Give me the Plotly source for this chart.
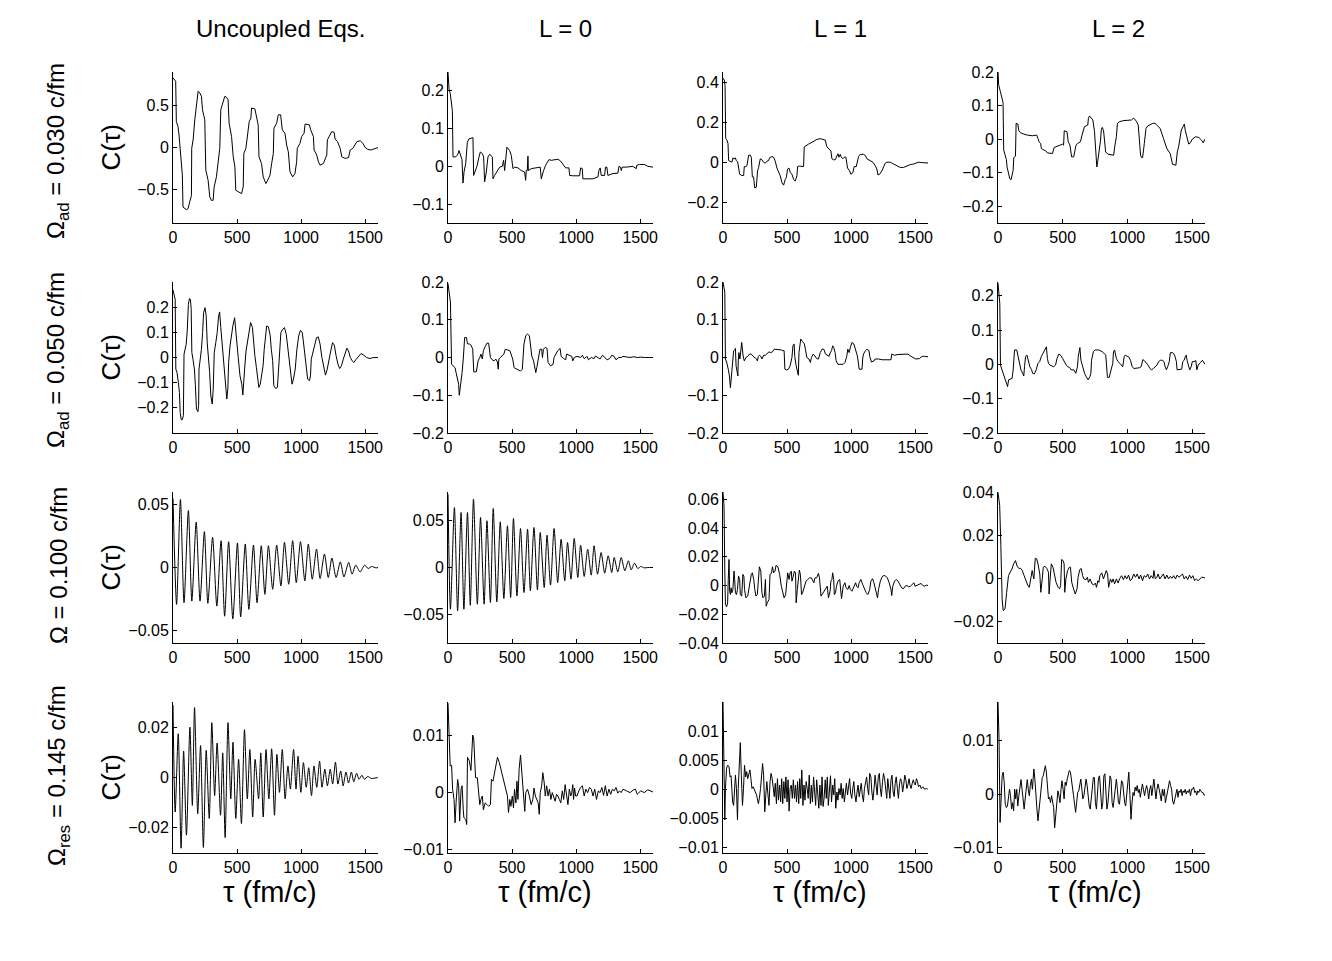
import plotly.graph_objects as go

# readings of C(tau) from the original figure, tau in fm/c
# row 1: Omega_ad = 0.030 c/fm
tau_11 = [0, 13, 21, 26, 39, 47, 57, 73, 78, 104,
          117, 136, 144, 146, 157, 170, 183, 196, 209, 222,
          230, 248, 256, 274, 287, 300, 313, 321, 339, 352,
          365, 373, 391, 404, 417, 430, 438, 457, 470, 483,
          490, 509, 535, 548, 553, 569, 579, 595, 608, 613,
          639, 652, 665, 671, 691, 704, 725, 736, 757, 770,
          783, 788, 809, 822, 840, 853, 874, 887, 900, 913,
          934, 952, 965, 970, 991, 1004, 1023, 1031, 1064, 1075,
          1096, 1101, 1122, 1135, 1148, 1174, 1200, 1205, 1226, 1239,
          1258, 1265, 1284, 1305, 1317, 1344, 1370, 1383, 1404, 1414,
          1435, 1461, 1482, 1500, 1518, 1544, 1578, 1600]
corr_11 = [0.83, 0.80, 0.79, 0.31, 0.25, 0.15, -0.07, -0.33, -0.71, -0.74,
           -0.73, -0.59, -0.57, -0.01, 0.09, 0.33, 0.53, 0.67, 0.65, 0.61,
           0.45, 0.33, -0.27, -0.39, -0.59, -0.63, -0.63, -0.47, -0.35, -0.15,
           -0.01, 0.45, 0.53, 0.61, 0.60, 0.57, 0.29, 0.13, -0.11, -0.23,
           -0.51, -0.53, -0.55, -0.47, -0.07, -0.01, 0.13, 0.31, 0.35, 0.47,
           0.46, 0.37, 0.27, -0.11, -0.19, -0.35, -0.43, -0.40, -0.33, -0.19,
           -0.07, 0.23, 0.29, 0.39, 0.39, 0.21, 0.17, 0.03, -0.05, -0.29,
           -0.35, -0.31, -0.17, -0.01, 0.05, 0.13, 0.17, 0.28, 0.27, 0.21,
           0.13, -0.03, -0.09, -0.17, -0.21, -0.19, -0.09, 0.09, 0.15, 0.19,
           0.18, 0.10, 0.07, -0.01, -0.11, -0.13, -0.12, -0.03, -0.01, 0.02,
           0.07, 0.08, 0.05, 0.0, -0.02, -0.03, -0.01, 0.0]

tau_12 = [0, 8, 18, 34, 39, 60, 70, 78, 86, 91,
          99, 109, 117, 125, 138, 151, 164, 182, 195, 200,
          216, 226, 242, 252, 268, 278, 286, 299, 312, 325,
          346, 351, 364, 382, 403, 424, 434, 442, 450, 460,
          481, 494, 507, 520, 546, 572, 598, 606, 611, 619,
          624, 627, 650, 689, 720, 728, 736, 746, 762, 775,
          788, 806, 840, 858, 879, 892, 910, 918, 944, 949,
          975, 1027, 1035, 1048, 1053, 1079, 1131, 1170, 1178, 1188,
          1196, 1222, 1230, 1240, 1248, 1287, 1326, 1334, 1347, 1352,
          1360, 1391, 1443, 1469, 1474, 1495, 1534, 1560, 1600]
corr_12 = [0.25, 0.205, 0.192, 0.148, 0.025, 0.025, 0.029, 0.033, 0.042, 0.035,
           0.025, 0.018, -0.044, -0.015, 0.007, 0.064, 0.073, 0.076, 0.076, -0.024,
           -0.006, 0.0, 0.025, 0.038, 0.034, 0.025, -0.041, -0.015, 0.025, 0.032,
           0.025, -0.033, -0.024, -0.015, -0.002, 0.0, 0.016, -0.011, 0.016, 0.051,
           0.042, 0.029, -0.006, -0.002, -0.004, -0.011, -0.015, -0.037, -0.011, -0.011,
           0.027, -0.011, -0.006, -0.004, -0.002, -0.033, -0.020, -0.011, 0.003, 0.011,
           0.018, 0.016, 0.018, 0.019, 0.014, 0.007, 0.0, -0.004, -0.004, -0.024,
           -0.025, -0.025, -0.004, -0.006, -0.033, -0.033, -0.033, -0.028, -0.011, -0.004,
           -0.024, -0.024, -0.002, -0.002, -0.024, -0.019, -0.018, 0.0, -0.002, -0.011,
           -0.002, -0.002, 0.0, -0.006, 0.003, 0.005, 0.005, 0.0, -0.002]

tau_13 = [0, 10, 16, 21, 31, 39, 44, 57, 70, 78,
          88, 96, 104, 114, 122, 130, 148, 161, 166, 179,
          187, 200, 213, 221, 229, 239, 247, 260, 270, 278,
          291, 304, 317, 330, 343, 356, 364, 382, 395, 408,
          421, 434, 447, 460, 473, 486, 494, 504, 515, 525,
          538, 551, 564, 577, 582, 598, 616, 629, 634, 650,
          668, 686, 707, 733, 759, 798, 811, 824, 842, 850,
          863, 876, 884, 897, 905, 915, 923, 936, 946, 959,
          972, 988, 998, 1014, 1024, 1040, 1058, 1071, 1097, 1110,
          1123, 1149, 1170, 1188, 1201, 1209, 1222, 1240, 1253, 1266,
          1279, 1305, 1331, 1357, 1383, 1409, 1435, 1461, 1487, 1526,
          1552, 1600]
corr_13 = [0.42, 0.41, 0.383, 0.12, 0.112, 0.095, 0.01, 0.007, 0.002, 0.024,
           0.017, 0.024, 0.01, 0.005, -0.024, -0.058, -0.064, -0.064, -0.02, -0.02,
           -0.015, 0.037, 0.037, 0.027, -0.071, -0.071, -0.125, -0.122, -0.041, -0.024,
           0.019, 0.014, 0.002, -0.003, 0.007, 0.01, 0.024, 0.03, 0.027, 0.007,
           -0.027, -0.049, -0.066, -0.1, -0.112, -0.083, -0.075, -0.032, -0.027, -0.049,
           -0.058, -0.083, -0.092, -0.066, -0.02, -0.017, -0.02, -0.02, 0.078, 0.086,
           0.092, 0.098, 0.107, 0.115, 0.119, 0.112, 0.078, 0.069, 0.058, 0.019,
           0.014, 0.014, 0.027, 0.044, 0.027, 0.041, 0.027, 0.019, 0.027, 0.027,
           -0.027, -0.041, -0.058, -0.049, -0.02, -0.02, 0.03, 0.041, 0.041, 0.036,
           0.019, 0.01, 0.002, -0.015, -0.032, -0.061, -0.058, -0.041, -0.024, -0.003,
           0.002, 0.002, -0.007, -0.015, -0.024, -0.024, -0.015, -0.01, -0.007, 0.002,
           0.0, -0.002]

tau_14 = [0, 5, 18, 31, 39, 44, 57, 65, 70, 83,
          91, 101, 109, 117, 122, 135, 140, 153, 161, 174,
          200, 226, 265, 299, 309, 317, 330, 335, 356, 369,
          382, 403, 421, 434, 460, 499, 507, 512, 533, 543,
          556, 569, 585, 595, 603, 616, 637, 650, 660, 668,
          694, 699, 707, 720, 733, 746, 754, 764, 772, 785,
          793, 798, 806, 816, 824, 832, 850, 876, 894, 902,
          915, 923, 941, 967, 1006, 1032, 1045, 1058, 1071, 1084,
          1097, 1102, 1110, 1118, 1131, 1144, 1157, 1175, 1196, 1214,
          1227, 1253, 1279, 1305, 1331, 1349, 1375, 1386, 1396, 1417,
          1430, 1440, 1448, 1461, 1474, 1487, 1500, 1526, 1552, 1573,
          1586, 1600]
corr_14 = [0.202, 0.162, 0.142, 0.122, 0.109, -0.033, -0.048, -0.061, -0.083, -0.103,
           -0.118, -0.121, -0.108, -0.093, -0.055, -0.051, 0.047, 0.045, 0.025, 0.019,
           0.015, 0.012, 0.01, 0.012, 0.002, -0.008, -0.013, -0.028, -0.033, -0.035,
           -0.041, -0.041, -0.043, -0.025, -0.021, -0.015, -0.018, 0.025, 0.022, -0.008,
           -0.018, -0.053, -0.053, -0.033, -0.018, -0.013, -0.008, 0.012, 0.027, 0.037,
           0.042, 0.062, 0.069, 0.062, 0.057, 0.022, -0.023, -0.083, -0.063, -0.033,
           -0.003, 0.027, 0.035, 0.025, 0.002, -0.038, -0.045, -0.048, -0.048, -0.023,
           0.007, 0.047, 0.052, 0.055, 0.055, 0.057, 0.062, 0.059, 0.052, 0.042,
           -0.023, -0.048, -0.055, -0.055, -0.013, 0.032, 0.039, 0.042, 0.047, 0.047,
           0.042, 0.032, 0.002, -0.028, -0.043, -0.075, -0.078, -0.038, -0.023, 0.027,
           0.037, 0.045, 0.025, 0.002, -0.015, -0.011, -0.001, 0.007, 0.005, -0.003,
           -0.011, 0.0]

# row 2: Omega_ad = 0.050 c/fm
tau_21 = [0, 8, 17, 22, 31, 42, 50, 56, 64, 72,
          81, 86, 95, 103, 111, 120, 128, 136, 142, 147,
          156, 167, 175, 183, 195, 200, 203, 211, 222, 231,
          239, 250, 259, 267, 278, 286, 295, 306, 314, 322,
          334, 345, 356, 364, 373, 384, 392, 400, 411, 420,
          428, 434, 445, 456, 467, 481, 489, 500, 509, 523,
          537, 545, 550, 559, 570, 584, 595, 606, 620, 628,
          639, 651, 662, 670, 681, 689, 703, 712, 723, 731,
          745, 759, 767, 778, 787, 801, 815, 823, 834, 842,
          856, 870, 884, 898, 912, 920, 929, 940, 954, 967,
          981, 995, 1009, 1017, 1029, 1040, 1051, 1065, 1073, 1079,
          1092, 1106, 1120, 1134, 1148, 1162, 1176, 1190, 1204, 1217,
          1231, 1245, 1259, 1273, 1287, 1301, 1315, 1329, 1343, 1357,
          1370, 1384, 1398, 1412, 1426, 1440, 1468, 1490, 1510, 1537,
          1557, 1585, 1600]
corr_21 = [0.268, 0.251, 0.231, -0.046, -0.059, -0.099, -0.139, -0.218, -0.247, -0.247,
           -0.231, 0.013, 0.033, 0.053, 0.106, 0.211, 0.234, 0.231, 0.191, 0.020,
           -0.007, -0.046, -0.112, -0.205, -0.215, -0.191, -0.046, -0.020, 0.033, 0.099,
           0.178, 0.198, 0.165, 0.059, -0.007, -0.059, -0.152, -0.185, -0.125, 0.020,
           0.059, 0.099, 0.165, 0.181, 0.119, 0.053, 0.0, -0.033, -0.086, -0.165,
           -0.125, -0.020, 0.046, 0.092, 0.125, 0.158, 0.106, 0.053, 0.0, -0.073,
           -0.106, -0.149, -0.099, -0.046, 0.026, 0.073, 0.112, 0.139, 0.119, 0.059,
           0.007, -0.040, -0.079, -0.119, -0.106, -0.073, -0.033, 0.033, 0.092, 0.125,
           0.122, 0.086, 0.033, -0.013, -0.112, -0.123, -0.119, -0.046, 0.073, 0.099,
           0.112, 0.119, 0.092, 0.033, -0.040, -0.075, -0.106, -0.086, -0.046, 0.033,
           0.086, 0.108, 0.099, 0.066, 0.007, -0.040, -0.086, -0.092, -0.073, -0.007,
           0.020, 0.046, 0.079, 0.082, 0.053, 0.0, -0.040, -0.070, -0.046, -0.007,
           0.026, 0.059, 0.049, 0.007, -0.026, -0.044, -0.033, -0.007, 0.013, 0.037,
           0.026, 0.0, -0.013, -0.020, -0.009, 0.0, 0.016, 0.009, 0.0, -0.004,
           -0.001, 0.0, 0.0]

tau_22 = [0, 8, 19, 28, 41, 55, 63, 75, 83, 88,
          97, 105, 110, 119, 130, 144, 152, 166, 179, 193,
          201, 221, 235, 248, 257, 268, 276, 290, 304, 317,
          331, 345, 359, 373, 386, 392, 397, 408, 422, 436,
          447, 469, 483, 497, 505, 516, 538, 566, 580, 588,
          593, 607, 621, 635, 643, 654, 668, 676, 685, 693,
          704, 718, 731, 737, 745, 759, 773, 781, 800, 820,
          828, 842, 856, 875, 883, 903, 919, 925, 947, 966,
          974, 985, 1007, 1035, 1049, 1063, 1085, 1096, 1118, 1140,
          1151, 1173, 1187, 1206, 1228, 1242, 1261, 1278, 1297, 1311,
          1333, 1352, 1366, 1394, 1421, 1449, 1477, 1504, 1532, 1600]
corr_22 = [0.196, 0.178, 0.147, -0.018, -0.022, -0.027, -0.040, -0.062, -0.071, -0.100,
           -0.076, -0.058, -0.040, -0.004, 0.053, 0.053, 0.036, 0.036, 0.033, 0.022,
           -0.038, -0.038, -0.009, 0.0, 0.009, -0.004, 0.018, 0.029, 0.038, 0.038,
           0.0, -0.006, -0.009, -0.004, -0.012, -0.031, -0.004, 0.0, 0.006, 0.009,
           0.022, 0.020, 0.018, 0.004, -0.004, -0.027, -0.031, -0.036, -0.031, 0.013,
           0.036, 0.058, 0.062, 0.058, 0.036, 0.004, -0.009, -0.022, -0.040, -0.027,
           0.0, 0.022, 0.022, 0.0, 0.022, 0.027, 0.024, -0.013, -0.022, -0.018,
           0.0, 0.009, 0.018, 0.024, 0.003, -0.003, -0.006, 0.009, 0.006, 0.003,
           -0.009, 0.0, 0.003, 0.0, 0.006, -0.003, 0.003, -0.006, 0.0, -0.003,
           0.004, 0.0, -0.004, 0.006, 0.0, -0.006, -0.003, 0.006, 0.003, -0.006,
           0.0, 0.0, 0.003, 0.001, 0.0, 0.002, 0.0, 0.001, 0.0, 0.0]

tau_23 = [0, 8, 14, 19, 28, 41, 50, 58, 66, 75,
          83, 91, 97, 102, 110, 116, 119, 124, 132, 138,
          146, 157, 166, 179, 193, 207, 221, 235, 248, 262,
          268, 276, 284, 295, 304, 317, 331, 345, 359, 373,
          386, 400, 428, 455, 469, 477, 483, 497, 511, 524,
          538, 546, 555, 560, 571, 580, 588, 593, 602, 607,
          621, 635, 643, 654, 671, 682, 690, 704, 718, 731,
          745, 753, 759, 773, 787, 800, 814, 828, 836, 847,
          856, 864, 875, 883, 897, 911, 925, 938, 952, 966,
          974, 985, 994, 1007, 1021, 1035, 1049, 1063, 1085, 1090,
          1096, 1112, 1123, 1140, 1145, 1159, 1179, 1187, 1201, 1214,
          1242, 1283, 1311, 1317, 1339, 1366, 1394, 1421, 1443, 1463,
          1482, 1504, 1532, 1554, 1573, 1600]
corr_23 = [0.2, 0.182, 0.173, -0.004, -0.012, -0.031, -0.049, -0.080, -0.040, -0.004,
           0.018, 0.020, 0.024, -0.022, -0.036, -0.049, -0.009, 0.013, -0.004, 0.027,
           0.040, 0.004, -0.009, 0.0, 0.003, 0.009, 0.009, 0.003, 0.0, -0.004,
           -0.009, 0.003, 0.006, 0.003, -0.004, 0.006, 0.006, 0.012, 0.015, 0.013,
           0.015, 0.022, 0.022, 0.020, 0.018, 0.018, -0.031, -0.033, -0.031, -0.022,
           0.0, 0.031, 0.036, 0.003, -0.022, -0.040, -0.047, 0.013, 0.036, 0.049,
           0.042, 0.036, 0.022, 0.0, -0.004, -0.013, 0.0, 0.009, 0.004, -0.003,
           -0.004, 0.009, 0.013, 0.022, 0.022, 0.009, 0.006, 0.003, 0.012, 0.018,
           0.031, 0.027, 0.013, -0.009, -0.018, -0.018, -0.020, -0.018, -0.013, 0.003,
           0.022, 0.013, 0.027, 0.040, 0.036, 0.018, 0.004, -0.031, -0.031, -0.004,
           0.009, 0.018, 0.022, 0.018, 0.003, -0.012, -0.009, -0.004, -0.003, -0.004,
           -0.006, -0.006, -0.006, 0.009, 0.006, 0.008, 0.008, 0.009, 0.009, 0.004,
           0.0, -0.004, -0.003, 0.003, 0.003, 0.002]

tau_24 = [0, 8, 14, 19, 27, 41, 55, 68, 74, 82,
          96, 109, 117, 123, 128, 145, 156, 167, 177, 191,
          199, 205, 213, 224, 232, 246, 259, 268, 281, 295,
          309, 322, 336, 349, 363, 374, 382, 390, 401, 418,
          431, 445, 456, 470, 483, 500, 513, 527, 541, 554,
          565, 587, 601, 614, 620, 628, 633, 641, 655, 669,
          682, 696, 710, 718, 723, 737, 751, 778, 805, 833,
          846, 860, 874, 887, 893, 901, 915, 928, 942, 956,
          964, 975, 983, 996, 1010, 1024, 1037, 1051, 1065, 1092,
          1106, 1120, 1133, 1147, 1160, 1174, 1188, 1201, 1215, 1229,
          1242, 1256, 1270, 1283, 1292, 1302, 1311, 1324, 1332, 1351,
          1365, 1379, 1384, 1406, 1420, 1428, 1439, 1447, 1455, 1461,
          1474, 1482, 1493, 1502, 1515, 1529, 1537, 1548, 1564, 1580,
          1600]
corr_24 = [0.237, 0.196, 0.177, -0.002, -0.012, -0.026, -0.041, -0.056, -0.065, -0.045,
           -0.043, -0.041, -0.017, 0.017, 0.042, 0.042, 0.020, -0.007, -0.016, -0.026,
           -0.034, -0.007, 0.022, 0.027, 0.017, -0.007, -0.015, -0.026, -0.028, -0.016,
           0.003, 0.008, 0.024, 0.034, 0.046, 0.051, 0.017, 0.003, -0.002, -0.005,
           -0.007, -0.002, 0.017, 0.030, 0.027, 0.017, 0.008, -0.002, -0.007, -0.009,
           -0.016, -0.016, -0.026, -0.007, 0.022, 0.042, 0.049, 0.012, -0.012, -0.026,
           -0.036, -0.045, -0.036, -0.026, 0.012, 0.037, 0.042, 0.042, 0.037, 0.027,
           -0.038, -0.038, -0.016, 0.003, 0.037, 0.042, 0.017, 0.008, 0.003, -0.002,
           -0.007, 0.022, 0.027, 0.024, 0.022, 0.012, -0.007, -0.012, -0.012, -0.010,
           -0.007, 0.014, 0.010, 0.005, -0.002, -0.012, -0.016, -0.012, -0.007, -0.002,
           0.008, 0.012, 0.012, 0.008, -0.007, -0.016, -0.007, 0.008, 0.034, 0.034,
           0.027, 0.008, -0.016, -0.016, -0.014, 0.008, 0.012, 0.022, 0.027, 0.012,
           -0.007, -0.016, -0.007, 0.008, 0.008, 0.011, -0.016, -0.002, 0.005, 0.012,
           0.0]

# row 3: Omega = 0.100 c/fm
tau_31 = [0, 28, 58, 86, 120, 147, 181, 211, 245, 272,
          309, 342, 375, 403, 434, 467, 503, 528, 564, 592,
          628, 656, 689, 717, 745, 778, 809, 842, 870, 903,
          934, 962, 995, 1029, 1056, 1087, 1120, 1148, 1182, 1212,
          1240, 1273, 1306, 1334, 1371, 1398, 1426, 1460, 1496, 1523,
          1551, 1585, 1600]
corr_31 = [0.0547, -0.0293, 0.0541, -0.0280, 0.0453, -0.0267, 0.0360, -0.0267, 0.0285, -0.0285,
           0.0240, -0.0307, 0.0213, -0.0387, 0.0205, -0.0408, 0.0195, -0.0392, 0.0187, -0.0333,
           0.0179, -0.0280, 0.0173, -0.0213, 0.0173, -0.0173, 0.0179, -0.0147, 0.0200, -0.0133,
           0.0213, -0.0120, 0.0205, -0.0107, 0.0187, -0.0093, 0.0147, -0.0088, 0.0107, -0.0080,
           0.0075, -0.0080, 0.0045, -0.0075, 0.0040, -0.0053, 0.0019, -0.0035, 0.0019, -0.0008,
           0.0008, -0.0003, 0.0]

tau_32 = [0, 19, 50, 75, 102, 124, 152, 174, 199, 229,
          254, 282, 304, 331, 353, 381, 408, 436, 464, 489,
          511, 538, 566, 593, 621, 643, 671, 698, 720, 751,
          773, 800, 828, 856, 883, 911, 933, 960, 985, 1013,
          1035, 1063, 1090, 1118, 1140, 1167, 1195, 1223, 1250, 1278,
          1297, 1325, 1352, 1380, 1408, 1430, 1455, 1482, 1504, 1532,
          1559, 1600]
corr_32 = [0.0777, -0.0442, 0.0636, -0.0459, 0.0583, -0.0442, 0.0583, -0.0401, 0.0724, -0.0389,
           0.0530, -0.0389, 0.0495, -0.0371, 0.0625, -0.0364, 0.0484, -0.0329, 0.0442, -0.0318,
           0.0519, -0.0300, 0.0413, -0.0265, 0.0406, -0.0247, 0.0424, -0.0237, 0.0371, -0.0212,
           0.0343, -0.0187, 0.0413, -0.0159, 0.0300, -0.0141, 0.0265, -0.0124, 0.0307, -0.0106,
           0.0237, -0.0095, 0.0194, -0.0081, 0.0230, -0.0071, 0.0159, -0.0060, 0.0124, -0.0053,
           0.0106, -0.0046, 0.0106, -0.0035, 0.0071, -0.0025, 0.0046, -0.0011, 0.0011, -0.0004,
           0.0, 0.0]

tau_33 = [0, 8, 14, 19, 28, 36, 41, 47, 52, 58,
          63, 69, 77, 86, 91, 97, 105, 113, 121, 130,
          135, 146, 155, 163, 168, 179, 193, 207, 221, 229,
          240, 248, 257, 268, 276, 284, 295, 304, 312, 323,
          331, 337, 345, 359, 367, 378, 386, 395, 406, 414,
          428, 442, 455, 469, 477, 489, 497, 505, 516, 524,
          533, 538, 549, 557, 566, 571, 580, 588, 596, 604,
          613, 621, 635, 648, 662, 676, 690, 698, 709, 718,
          731, 745, 753, 765, 778, 787, 800, 814, 823, 836,
          842, 850, 856, 864, 869, 878, 886, 897, 911, 919,
          925, 938, 952, 960, 974, 985, 994, 1007, 1021, 1035,
          1043, 1054, 1063, 1076, 1090, 1104, 1118, 1131, 1145, 1154,
          1167, 1178, 1187, 1195, 1206, 1214, 1228, 1242, 1256, 1270,
          1283, 1297, 1311, 1317, 1325, 1339, 1352, 1366, 1380, 1394,
          1408, 1421, 1435, 1449, 1463, 1477, 1490, 1499, 1510, 1526,
          1546, 1559, 1573, 1587, 1600]
corr_33 = [0.0649, 0.0553, 0.0112, -0.0133, -0.0149, -0.0121, 0.0042, 0.0181, -0.0040, -0.0063,
           -0.0016, -0.0051, -0.0028, 0.0100, 0.0042, -0.0051, -0.0063, -0.0028, 0.0065, 0.0042,
           -0.0063, -0.0074, 0.0077, 0.0065, -0.0028, -0.0086, -0.0074, 0.0019, 0.0077, 0.0088,
           0.0042, -0.0028, -0.0074, -0.0063, 0.0042, 0.0130, 0.0100, -0.0051, -0.0086, -0.0074,
           0.0042, -0.0144, -0.0121, -0.0098, 0.0077, 0.0084, 0.0130, 0.0088, 0.0100, 0.0140,
           0.0130, 0.0077, -0.0005, -0.0074, -0.0086, -0.0063, 0.0042, 0.0088, 0.0042, 0.0088,
           0.0100, 0.0030, 0.0065, 0.0100, 0.0088, -0.0121, -0.0028, 0.0053, 0.0107, 0.0077,
           -0.0063, -0.0051, -0.0016, 0.0030, 0.0042, 0.0053, 0.0053, 0.0042, 0.0019, 0.0053,
           0.0053, 0.0084, 0.0053, -0.0074, -0.0056, -0.0051, -0.0028, -0.0005, -0.0086, -0.0040,
           0.0030, 0.0042, 0.0088, 0.0042, -0.0063, -0.0051, -0.0005, 0.0030, 0.0042, -0.0040,
           -0.0093, -0.0005, 0.0019, -0.0016, -0.0028, 0.0000, -0.0028, -0.0040, -0.0005, 0.0019,
           -0.0005, -0.0016, 0.0019, 0.0042, 0.0007, -0.0028, -0.0051, -0.0063, -0.0028, 0.0030,
           0.0047, 0.0019, -0.0016, -0.0063, -0.0086, -0.0028, 0.0030, 0.0060, 0.0070, 0.0065,
           0.0053, 0.0019, -0.0028, -0.0070, -0.0005, 0.0030, 0.0042, 0.0030, 0.0007, -0.0016,
           -0.0023, -0.0005, 0.0000, -0.0009, -0.0005, 0.0005, 0.0019, -0.0005, 0.0000, 0.0007,
           0.0014, 0.0000, -0.0005, 0.0002, 0.0]

tau_34 = [0, 13, 22, 32, 40, 54, 67, 81, 94, 108,
          121, 135, 148, 161, 175, 188, 202, 215, 229, 242,
          256, 264, 277, 288, 299, 309, 323, 331, 342, 350,
          363, 377, 390, 395, 403, 412, 425, 438, 449, 465,
          476, 484, 492, 503, 511, 516, 525, 538, 551, 560,
          570, 584, 597, 611, 619, 632, 643, 654, 664, 681,
          691, 699, 712, 726, 740, 753, 761, 772, 780, 788,
          802, 815, 826, 837, 847, 855, 869, 880, 890, 901,
          915, 928, 942, 955, 969, 982, 995, 1009, 1022, 1036,
          1049, 1063, 1076, 1090, 1103, 1117, 1130, 1144, 1157, 1171,
          1184, 1198, 1205, 1216, 1229, 1237, 1251, 1264, 1278, 1291,
          1305, 1318, 1332, 1345, 1358, 1372, 1385, 1399, 1413, 1426,
          1439, 1453, 1466, 1480, 1493, 1506, 1520, 1533, 1547, 1560,
          1574, 1600]
corr_34 = [0.0399, 0.0337, 0.0152, -0.0096, -0.0150, -0.0142, -0.0065, 0.0012, 0.0028, 0.0043,
           0.0067, 0.0082, 0.0056, 0.0046, 0.0046, 0.0036, 0.0012, -0.0011, -0.0031, -0.0042,
           0.0005, 0.0036, -0.0003, 0.0093, 0.0090, 0.0067, 0.0020, -0.0065, -0.0003, 0.0051,
           0.0056, 0.0046, 0.0028, -0.0073, -0.0003, 0.0067, 0.0051, 0.0012, -0.0019, -0.0042,
           -0.0049, -0.0034, 0.0087, 0.0082, 0.0067, -0.0065, -0.0003, 0.0036, 0.0051, 0.0051,
           -0.0019, -0.0049, -0.0073, -0.0049, 0.0005, 0.0040, 0.0046, 0.0012, -0.0003, -0.0006,
           0.0005, -0.0019, -0.0003, -0.0026, -0.0031, -0.0022, -0.0042, -0.0011, -0.0019, 0.0012,
           0.0025, -0.0003, 0.0015, 0.0036, 0.0020, -0.0042, -0.0003, -0.0019, -0.0003, -0.0026,
           -0.0003, -0.0022, 0.0000, 0.0012, -0.0006, 0.0012, -0.0003, 0.0015, -0.0011, -0.0003,
           0.0020, 0.0005, 0.0020, -0.0003, 0.0015, -0.0011, 0.0012, 0.0005, 0.0020, -0.0003,
           0.0012, 0.0000, 0.0036, -0.0003, 0.0005, 0.0020, -0.0003, 0.0009, 0.0020, -0.0003,
           0.0015, -0.0003, 0.0009, 0.0000, 0.0012, -0.0003, 0.0015, 0.0005, 0.0012, 0.0020,
           -0.0003, 0.0009, -0.0006, 0.0015, 0.0000, 0.0012, -0.0011, -0.0003, -0.0011, -0.0003,
           0.0005, 0.0002]

# row 4: Omega_res = 0.145 c/fm
tau_41 = [0, 17, 41, 63, 83, 105, 132, 151, 168, 193,
          215, 237, 259, 283, 303, 325, 344, 371, 388, 407,
          429, 451, 468, 490, 512, 534, 558, 580, 600, 622,
          641, 668, 685, 704, 726, 748, 770, 792, 811, 831,
          853, 875, 897, 916, 941, 960, 976, 998, 1018, 1040,
          1059, 1081, 1100, 1122, 1144, 1163, 1185, 1205, 1227, 1246,
          1268, 1287, 1309, 1328, 1350, 1370, 1392, 1411, 1433, 1452,
          1474, 1493, 1521, 1548, 1598]
corr_41 = [0.0288, -0.0137, 0.0174, -0.0281, 0.0105, -0.0229, 0.0200, -0.0111, 0.0278, -0.0144,
           0.0127, -0.0278, 0.0108, -0.0163, 0.0218, -0.0072, 0.0137, -0.0150, 0.0098, -0.0239,
           0.0218, -0.0085, 0.0140, -0.0163, 0.0072, -0.0183, 0.0190, -0.0085, 0.0111, -0.0157,
           0.0072, -0.0085, 0.0098, -0.0157, 0.0111, -0.0085, 0.0114, -0.0150, 0.0092, -0.0059,
           0.0111, -0.0085, 0.0046, -0.0046, 0.0111, -0.0046, 0.0085, -0.0059, 0.0059, -0.0039,
           0.0039, -0.0072, 0.0046, -0.0039, 0.0065, -0.0039, 0.0033, -0.0033, 0.0033, -0.0026,
           0.0061, -0.0026, 0.0026, -0.0033, 0.0022, -0.0022, 0.0022, -0.0017, 0.0017, -0.0007,
           0.0009, -0.0007, 0.0004, -0.0004, 0.0]

tau_42 = [0, 8, 17, 28, 36, 47, 55, 63, 75, 83,
          91, 102, 110, 119, 124, 138, 146, 152, 166, 179,
          188, 193, 201, 207, 215, 229, 240, 248, 257, 268,
          276, 290, 304, 317, 331, 339, 351, 367, 378, 386,
          400, 414, 428, 442, 455, 464, 472, 483, 491, 502,
          511, 519, 530, 538, 546, 555, 566, 574, 585, 593,
          599, 607, 621, 635, 649, 662, 671, 682, 690, 704,
          712, 720, 731, 740, 751, 759, 770, 781, 792, 803,
          814, 825, 836, 847, 858, 869, 880, 892, 903, 914,
          925, 936, 947, 958, 966, 974, 980, 988, 996, 1007,
          1021, 1035, 1049, 1063, 1076, 1090, 1104, 1118, 1132, 1145,
          1159, 1173, 1187, 1201, 1214, 1228, 1242, 1256, 1270, 1283,
          1297, 1311, 1325, 1339, 1352, 1366, 1394, 1421, 1449, 1463,
          1477, 1504, 1532, 1559, 1600]
corr_42 = [0.0156, 0.0116, 0.0046, 0.0047, 0.0005, -0.0013, -0.0054, -0.0019, 0.0022, 0.0011,
           -0.0051, 0.0005, 0.0011, -0.0031, -0.0045, -0.0048, -0.0057, 0.0061, 0.0055, 0.0038,
           0.0067, 0.0100, 0.0093, 0.0058, 0.0025, 0.0025, -0.0001, -0.0022, -0.0013, -0.0007,
           -0.0031, -0.0019, -0.0022, -0.0025, -0.0022, 0.0022, 0.0019, 0.0037, 0.0052, 0.0061,
           0.0052, 0.0040, 0.0025, 0.0011, 0.0005, -0.0007, -0.0036, -0.0013, -0.0025, -0.0007,
           -0.0028, 0.0005, -0.0019, 0.0019, -0.0013, 0.0040, 0.0065, 0.0040, 0.0007, -0.0016,
           -0.0034, -0.0001, 0.0005, -0.0007, -0.0022, -0.0013, 0.0007, -0.0007, -0.0013, -0.0019,
           -0.0039, -0.0001, 0.0011, 0.0034, 0.0016, -0.0007, 0.0011, -0.0007, 0.0005, -0.0013,
           -0.0001, -0.0007, -0.0016, -0.0004, -0.0007, -0.0013, -0.0019, 0.0002, -0.0013, 0.0013,
           -0.0006, -0.0022, 0.0005, -0.0007, -0.0001, 0.0013, -0.0013, 0.0007, -0.0007, -0.0007,
           0.0002, 0.0008, 0.0011, -0.0007, 0.0005, -0.0001, 0.0008, 0.0005, -0.0007, 0.0005,
           -0.0013, 0.0002, -0.0001, 0.0008, -0.0006, 0.0011, -0.0007, 0.0005, -0.0004, 0.0005,
           0.0002, 0.0008, -0.0002, 0.0002, -0.0001, 0.0005, 0.0002, -0.0001, 0.0004, 0.0005,
           -0.0004, 0.0002, -0.0001, 0.0004, 0.0]

tau_43 = [0, 8, 14, 19, 28, 36, 47, 55, 63, 69,
          75, 83, 91, 97, 105, 113, 119, 127, 135, 143,
          152, 160, 168, 177, 185, 193, 202, 210, 218, 226,
          235, 248, 262, 276, 284, 293, 301, 309, 317, 326,
          334, 342, 350, 359, 367, 375,
          384, 392, 400, 408, 417, 425, 433, 442, 450, 458,
          466, 475, 483, 491, 500, 508, 516, 524, 533, 541,
          549, 558, 566, 574, 582, 591, 599, 607, 615, 624,
          632, 640, 649, 657, 665, 673, 682, 690, 698, 707,
          715, 723, 731, 740, 748, 756, 765, 773, 781, 789,
          798, 806, 814, 822, 831, 839, 847, 856, 864, 872,
          880, 889, 897, 905, 914, 922, 930, 938, 947, 955,
          963, 972, 980, 988, 996, 1005, 1013, 1021, 1029, 1038,
          1046, 1054, 1063, 1071, 1079, 1087, 1096, 1104, 1112, 1121,
          1129, 1137, 1145, 1154, 1162, 1170, 1179, 1187, 1195, 1203,
          1212, 1220, 1228, 1236, 1245, 1253, 1261, 1270, 1278, 1286,
          1294, 1303, 1311, 1319, 1328, 1336, 1344, 1352, 1361, 1369,
          1377, 1385, 1394, 1402, 1410, 1419, 1427, 1435, 1443, 1452,
          1460, 1468, 1477, 1485, 1493, 1501, 1510, 1518, 1526, 1537,
          1548, 1559, 1573, 1587, 1598]
corr_43 = [0.0151, 0.0047, -0.0053, 0.0001, 0.0036, 0.0041, 0.0039, 0.0021, 0.0023, 0.0001,
           -0.0022, -0.0028, -0.0003, 0.0024, 0.0001, -0.0053, 0.0001, 0.0047, 0.0080, 0.0024,
           -0.0028, 0.0001, 0.0041, 0.0021, 0.0030, 0.0018, 0.0027, 0.0033, 0.0018, 0.0001,
           0.0004, -0.0002, -0.0010, -0.0025, -0.0016, 0.0001, 0.0018, 0.0044, 0.0024, -0.0039,
           -0.0010, 0.0013, -0.0007, -0.0028, 0.0013, 0.0027,
           0.0018, 0.0001, -0.0013, 0.0010, -0.0025, 0.0018, -0.0019, 0.0007, -0.0022, 0.0018,
           -0.0025, 0.0013, -0.0016, 0.0021, -0.0022, 0.0016, -0.0038, 0.0001, 0.0007, -0.0016,
           0.0016, -0.0016, 0.0007, -0.0022, 0.0013, -0.0025, 0.0018, -0.0016, 0.0033, -0.0028,
           0.0007, -0.0019, 0.0013, 0.0001, -0.0016, 0.0024, -0.0025, 0.0007, -0.0022, 0.0021,
           -0.0016, -0.0028, 0.0016, -0.0022, -0.0033, 0.0007, -0.0028, 0.0021, -0.0030, -0.0016,
           0.0016, -0.0016, 0.0021, -0.0028, 0.0001, 0.0023, -0.0022, 0.0007, -0.0010, 0.0018,
           -0.0033, -0.0005, -0.0019, 0.0001, -0.0010, 0.0010, -0.0016, 0.0001, -0.0022, -0.0005,
           0.0010, -0.0010, 0.0001, 0.0018, -0.0007, -0.0016, 0.0001, 0.0013, -0.0010, -0.0022,
           -0.0005, 0.0007, -0.0013, -0.0002, 0.0010, -0.0010, -0.0022, 0.0001, 0.0013, 0.0021,
           0.0001, -0.0010, 0.0027, 0.0021, -0.0005, -0.0019, 0.0001, 0.0024, 0.0007, -0.0010,
           0.0021, 0.0027, 0.0001, -0.0013, 0.0013, 0.0027, 0.0018, -0.0007, -0.0016, 0.0018,
           0.0001, -0.0016, 0.0016, 0.0024, -0.0005, -0.0013, 0.0010, 0.0021, 0.0001, -0.0016,
           0.0007, 0.0018, 0.0013, -0.0005, 0.0007, 0.0024, 0.0016, 0.0001, 0.0007, 0.0018,
           0.0007, 0.0001, 0.0010, 0.0016, 0.0010, 0.0007, 0.0018, 0.0013, 0.0004, 0.0007,
           0.0001, 0.0004, 0.0, 0.0001, 0.0]

tau_44 = [0, 8, 16, 24, 32, 40, 48, 56, 65, 73,
          81, 89, 97, 105, 113, 121, 129, 137, 145, 153,
          161, 169, 178, 186, 194, 202, 210, 218, 226, 234,
          242, 250, 258, 266, 277,
          285, 293, 301, 309, 317, 325, 334, 342, 350, 358,
          366, 374, 382, 390, 398, 406, 414, 422, 430, 438,
          447, 455, 463, 471, 479, 487, 495, 503, 511, 519,
          527, 535, 543, 551, 560, 568, 576, 584, 592, 600,
          608, 616, 624, 632, 640, 648, 656, 664, 672, 681,
          689, 697, 705, 713, 721, 729, 737, 745, 753, 761,
          769, 777, 785, 794, 802, 810, 818, 826, 834, 842,
          850, 858, 866, 874, 882, 890, 898, 907, 915, 923,
          931, 939, 947, 955, 963, 971, 979, 987, 995, 1003,
          1011, 1020, 1028, 1036, 1044, 1052, 1060, 1068, 1076, 1084,
          1092, 1100, 1108, 1116, 1124, 1133, 1141, 1149, 1157, 1165,
          1173, 1181, 1189, 1197, 1205, 1213, 1221, 1229, 1237, 1246,
          1254, 1262, 1270, 1278, 1286, 1294, 1302, 1310, 1318, 1326,
          1334, 1342, 1350, 1358, 1367, 1375, 1383, 1391, 1399, 1407,
          1415, 1423, 1431, 1439, 1447, 1455, 1463, 1471, 1480, 1488,
          1496, 1504, 1512, 1520, 1528, 1536, 1544, 1552, 1560, 1568,
          1576, 1584, 1593, 1600]
corr_44 = [0.0172, 0.0103, -0.0053, 0.0009, 0.0034, 0.0041, 0.0022, -0.0019, -0.0025, -0.0022,
           0.0, 0.0009, -0.0003, -0.0028, -0.0016, -0.0031, 0.0009, -0.0009, 0.0009, -0.0022,
           -0.0003, 0.0013, 0.0027, 0.0009, -0.0016, -0.0028, -0.0009, 0.0016, 0.0027, 0.0009,
           -0.0003, 0.0016, 0.0028, 0.0009, 0.0047,
           0.0028, -0.0009, -0.0028, -0.0050, -0.0028, -0.0003, 0.0022, 0.0031, 0.0034, 0.0044,
           0.0053, 0.0041, 0.0009, -0.0009, -0.0006, -0.0016, -0.0003, -0.0013, -0.0025, -0.0063,
           -0.0034, -0.0009, 0.0006, -0.0003, -0.0016, 0.0009, 0.0025, 0.0009, -0.0009, 0.0022,
           0.0016, 0.0028, 0.0038, 0.0044, 0.0041, 0.0022, 0.0009, -0.0003, -0.0019, -0.0034,
           -0.0016, 0.0003, 0.0006, 0.0022, 0.0028, 0.0009, -0.0009, -0.0003, 0.0019, 0.0028,
           0.0016, -0.0009, -0.0022, -0.0028, -0.0009, 0.0009, 0.0031, 0.0031, -0.0016, -0.0028,
           0.0009, 0.0031, 0.0034, -0.0003, -0.0028, -0.0016, 0.0034, 0.0038, -0.0009, -0.0028,
           -0.0016, 0.0022, 0.0034, 0.0028, -0.0016, -0.0025, -0.0009, 0.0016, 0.0028, 0.0009,
           -0.0016, -0.0019, 0.0009, 0.0025, 0.0022, -0.0003, -0.0016, -0.0022, -0.0003, 0.0009,
           0.0041, -0.0003, -0.0047, -0.0016, 0.0003, -0.0003, 0.0013, 0.0006, 0.0016, 0.0003,
           0.0009, -0.0006, 0.0009, 0.0019, 0.0009, -0.0003, 0.0009, 0.0016, 0.0006, -0.0009,
           0.0009, 0.0016, -0.0003, 0.0009, 0.0028, 0.0009, -0.0009, 0.0009, 0.0019, 0.0009,
           -0.0003, -0.0013, 0.0009, -0.0003, 0.0009, -0.0016, -0.0006, 0.0003, 0.0016, 0.0025,
           0.0016, 0.0009, -0.0013, -0.0019, -0.0009, 0.0003, 0.0009, -0.0006, 0.0006, 0.0003,
           0.0009, -0.0003, 0.0006, 0.0003, 0.0009, 0.0, 0.0006, 0.0003, 0.0009, -0.0003,
           0.0009, 0.0009, 0.0013, 0.0003, 0.0006, -0.0002, 0.0006, 0.0003, 0.0009, 0.0006,
           0.0003, 0.0003, -0.0002, -0.0002]

col_titles = ['Uncoupled Eqs.', 'L = 0', 'L = 1', 'L = 2']
row_labels = ['Ω<sub>ad</sub> = 0.030 c/fm', 'Ω<sub>ad</sub> = 0.050 c/fm',
              'Ω = 0.100 c/fm', 'Ω<sub>res</sub> = 0.145 c/fm']
x_ticks = [0, 500, 1000, 1500]

# y ranges and ticks per panel, row by row
y_ranges = [[-0.9, 0.9], [-0.15, 0.25], [-0.3, 0.45], [-0.25, 0.2],
            [-0.3, 0.3], [-0.2, 0.2], [-0.2, 0.2], [-0.2, 0.24],
            [-0.06, 0.06], [-0.08, 0.08], [-0.04, 0.065], [-0.03, 0.04],
            [-0.03, 0.03], [-0.0107, 0.0158], [-0.011, 0.015], [-0.011, 0.0172]]
y_ticks = [[-0.5, 0, 0.5], [-0.1, 0, 0.1, 0.2], [-0.2, 0, 0.2, 0.4], [-0.2, -0.1, 0, 0.1, 0.2],
           [-0.2, -0.1, 0, 0.1, 0.2], [-0.2, -0.1, 0, 0.1, 0.2], [-0.2, -0.1, 0, 0.1, 0.2], [-0.2, -0.1, 0, 0.1, 0.2],
           [-0.05, 0, 0.05], [-0.05, 0, 0.05], [-0.04, -0.02, 0, 0.02, 0.04, 0.06], [-0.02, 0, 0.02, 0.04],
           [-0.02, 0, 0.02], [-0.01, 0, 0.01], [-0.01, -0.005, 0, 0.005, 0.01], [-0.01, 0, 0.01]]

panels = [(tau_11, corr_11), (tau_12, corr_12), (tau_13, corr_13), (tau_14, corr_14),
          (tau_21, corr_21), (tau_22, corr_22), (tau_23, corr_23), (tau_24, corr_24),
          (tau_31, corr_31), (tau_32, corr_32), (tau_33, corr_33), (tau_34, corr_34),
          (tau_41, corr_41), (tau_42, corr_42), (tau_43, corr_43), (tau_44, corr_44)]
smooth = {8, 9, 12}

# the page adds an 8 px body margin, so the figure is 16 px smaller than the window
W, H = 1316, 945
col_px = [(165, 370), (440, 645), (715, 920), (990, 1197)]
row_px = [(64, 215), (274, 425), (484, 635), (694, 845)]
FONT = 'Liberation Sans, Arial, Helvetica, sans-serif'


def fmt(v):
    if v == 0:
        return '0'
    s = ('%g' % abs(v))
    return ('−' if v < 0 else '') + s


fig = go.Figure()
layout = {}
for i, (t, c) in enumerate(panels):
    assert len(t) == len(c), (i, len(t), len(c))
    r, k = divmod(i, 4)
    n = i + 1
    fig.add_trace(go.Scatter(
        x=t, y=c, mode='lines', xaxis='x%d' % n, yaxis='y%d' % n,
        line=dict(color='black', width=1,
                  shape='spline' if i in smooth else 'linear',
                  smoothing=0.7),
        showlegend=False, hoverinfo='skip'))
    x0, x1 = col_px[k]
    y0, y1 = row_px[r]
    common = dict(showline=True, linecolor='black', linewidth=1, mirror=False,
                  showgrid=False, zeroline=False, ticks='inside', ticklen=4,
                  tickcolor='black', tickwidth=1, automargin=False,
                  tickfont=dict(family=FONT, size=16, color='black'))
    layout['xaxis%d' % n] = dict(
        domain=[x0 / W, x1 / W], anchor='y%d' % n, range=[0, 1600],
        tickvals=x_ticks, ticktext=[fmt(v) for v in x_ticks], **common)
    layout['yaxis%d' % n] = dict(
        domain=[1 - y1 / H, 1 - y0 / H], anchor='x%d' % n, range=y_ranges[i],
        tickvals=y_ticks[i], ticktext=[fmt(v) for v in y_ticks[i]], **common)


def label(txt, px, py, size, angle=0):
    return dict(text=txt, x=px / W, y=1 - py / H, xref='paper', yref='paper',
                xanchor='center', yanchor='middle', textangle=angle,
                showarrow=False, font=dict(family=FONT, size=size, color='black'))


ann = []
title_x = [272, 557, 832, 1110]
for k, txt in enumerate(col_titles):
    ann.append(label(txt, title_x[k], 20, 24))
xlab_x = [262, 537, 812, 1087]
for k in range(4):
    ann.append(label('τ (fm/c)', xlab_x[k], 884, 29))
row_mid = [143, 352, 558, 768]
for r, txt in enumerate(row_labels):
    ann.append(label(txt, 50, row_mid[r], 24, -90))
    ann.append(label('C(τ)', 102, (row_px[r][0] + row_px[r][1]) / 2, 26, -90))

fig.update_layout(width=W, height=H, margin=dict(l=0, r=0, t=0, b=0, autoexpand=False),
                  paper_bgcolor='white', plot_bgcolor='white',
                  annotations=ann, **layout)
fig.write_html("out.html")
